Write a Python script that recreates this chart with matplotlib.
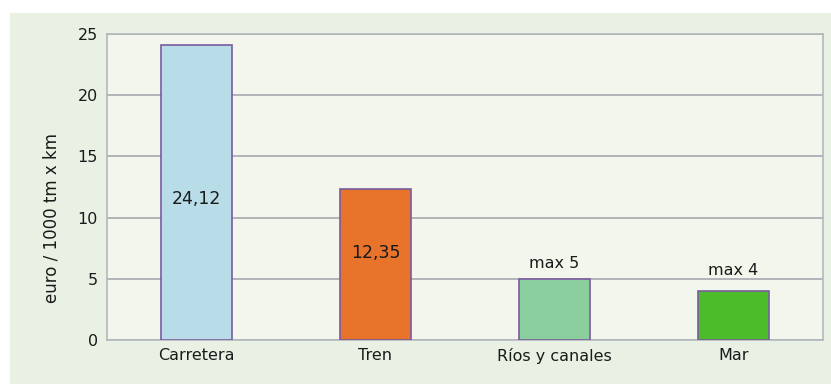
import matplotlib.pyplot as plt
from matplotlib.patches import Rectangle

plt.rcParams['font.family'] = ['DejaVu Sans']

# costes de transporte por modo
modos = ['Carretera', 'Tren', 'Ríos y canales', 'Mar']
costes = [24.12, 12.35, 5, 4]
etiquetas = ['24,12', '12,35', 'max 5', 'max 4']
colores = ['#b8dde9', '#e8732b', '#8ccf9e', '#4cbc2a']

fig = plt.figure(figsize=(8.31, 3.84), dpi=100)
fig.patch.set_facecolor('white')
# panel de fondo verdoso
fig.patches.append(Rectangle((10 / 831, 0), 1, 1 - 13 / 384, transform=fig.transFigure,
                             facecolor='#e9f1e4', edgecolor='none', zorder=-1))

ax = fig.add_axes([107 / 831, 44 / 384, 716 / 831, 306 / 384])
ax.set_facecolor('#f2f6ec')

x = range(len(modos))
barras = ax.bar(x, costes, width=0.40, color=colores, edgecolor='#7a5c9e', linewidth=1.2, zorder=3)

# textos de valor
ax.text(0, 11.56, etiquetas[0], ha='center', va='center', fontsize=12.5, color='#1a1a1a', zorder=4)
ax.text(1, 7.1, etiquetas[1], ha='center', va='center', fontsize=12.5, color='#1a1a1a', zorder=4)
ax.text(2, 5.88, etiquetas[2], ha='center', va='baseline', fontsize=11.5, color='#1a1a1a', zorder=4)
ax.text(3, 5.31, etiquetas[3], ha='center', va='baseline', fontsize=11.5, color='#1a1a1a', zorder=4)

ax.set_xlim(-0.5, 3.5)
ax.set_ylim(0, 25)
ax.set_yticks([0, 5, 10, 15, 20, 25])
ax.set_xticks(list(x))
ax.set_xticklabels(modos)
ax.tick_params(axis='both', length=0, labelsize=11.5, labelcolor='#1a1a1a')
ax.tick_params(axis='y', pad=6.5)
ax.tick_params(axis='x', pad=6)
ax.set_ylabel('euro / 1000 tm x km', fontsize=12, color='#1a1a1a')
ax.yaxis.set_label_coords(-0.0656, 0.40)

ax.yaxis.grid(True, color='#a6a9b0', linewidth=1.2, zorder=1)
for lado in ['left', 'right', 'top', 'bottom']:
    ax.spines[lado].set_color('#b4b8bc')
    ax.spines[lado].set_linewidth(1.2)

plt.savefig('out.png', dpi=100)
